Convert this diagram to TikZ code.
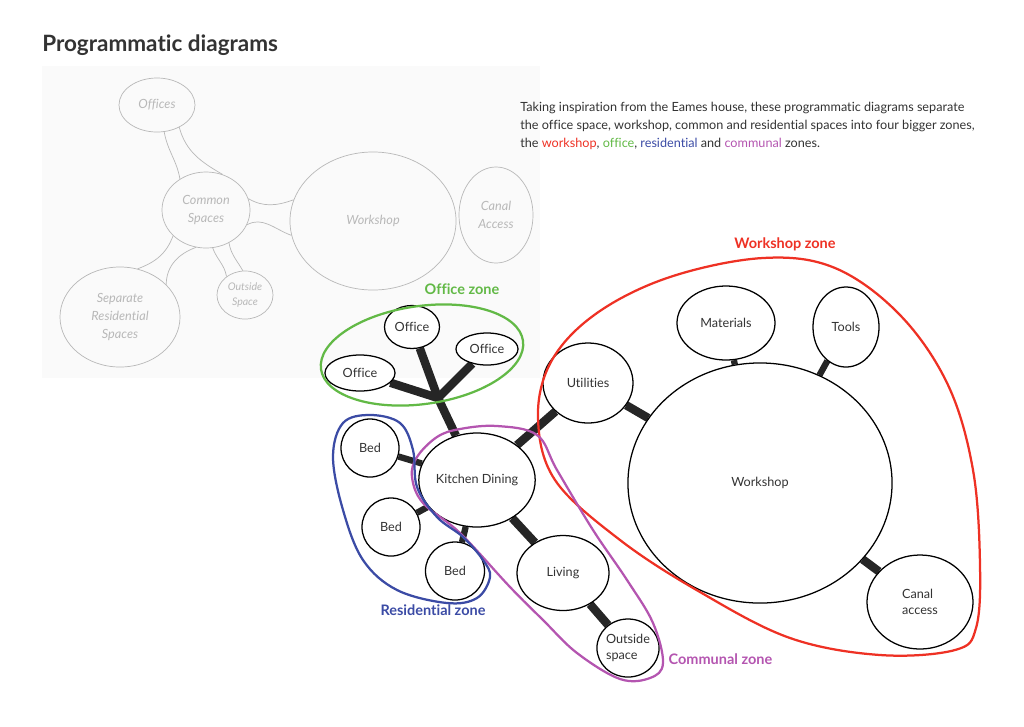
\documentclass[tikz,border=0pt]{standalone}
\usepackage{fontspec}
\setmainfont{Lato}[Ligatures=NoCommon]
\usetikzlibrary{shapes.geometric, positioning, backgrounds}
\definecolor{InkGray}{HTML}{333333}
\definecolor{WorkshopRed}{HTML}{EE3124}
\definecolor{OfficeGreen}{HTML}{62B946}
\definecolor{ResBlue}{HTML}{3B4BA5}
\definecolor{CommPurple}{HTML}{B455B0}
\definecolor{PaperGray}{HTML}{FAFAFA}
\definecolor{Pencil}{HTML}{B8B8B8}
\tikzset{
    bubble/.style 2 args={ellipse, draw=black, line width=0.9pt, fill=white, inner sep=0pt, align=center, text=InkGray, font=\fontsize{9}{11}\selectfont, minimum width=#1*0.05cm, minimum height=#2*0.05cm},
    sketch/.style 2 args={ellipse, draw=Pencil, line width=0.5pt, inner sep=0pt, align=center, text=Pencil, font=\itshape\fontsize{9}{13}\selectfont, minimum width=#1*0.05cm, minimum height=#2*0.05cm},
    pencil/.style={draw=Pencil, line width=0.5pt},
    link/.style={line width=6pt, draw=black!85},
    thinlink/.style={line width=4.5pt, draw=black!85},
    zone/.style={line width=1.6pt},
    zonelabel/.style={font=\bfseries\fontsize{10.3}{12}\selectfont, inner sep=1pt}
}

\begin{document}
\begin{tikzpicture}[x=0.025cm, y=-0.025cm]
    \useasboundingbox (0,0) rectangle (1024,726);

    \node[anchor=west, inner sep=0pt, text=InkGray, font=\bfseries\fontsize{16}{18}\selectfont] (title) at (42,45) {Programmatic diagrams};
    \node[anchor=north west, inner sep=0pt, align=left, text=InkGray, font=\fontsize{9}{12.8}\selectfont] (intro) at (520,102)
        {Taking inspiration from the Eames house, these programmatic diagrams separate\\
         the office space, workshop, common and residential spaces into four bigger zones,\\
         the \textcolor{WorkshopRed}{workshop}, \textcolor{OfficeGreen}{office}, \textcolor{ResBlue}{residential} and \textcolor{CommPurple}{communal} zones.};

    % pencil sketch
    \node[sketch={38}{27}] (skOffices) at (157,105) {Offices};
    \node[sketch={44}{38}] (skCommon) at (206,210) {Common\\Spaces};
    \node[sketch={83}{69}] (skWorkshop) at (373,221) {Workshop};
    \node[sketch={37}{48}] (skCanal) at (496,215) {Canal\\Access};
    \node[sketch={60}{50}] (skResidential) at (120,317) {Separate\\Residential\\Spaces};
    \node[sketch={28}{24}, font=\itshape\fontsize{7.5}{11}\selectfont] (skOutside) at (245,295) {Outside\\Space};

    \draw[pencil] (skOffices.-75) to[out=-80, in=100] (skCommon.130);
    \draw[pencil] (skOffices.-45) to[out=-75, in=150] (skCommon.65);
    \draw[pencil] (skCommon.15) to[out=-30, in=-160] (skWorkshop.165);
    \draw[pencil] (skCommon.-20) to[out=30, in=160] (skWorkshop.-170);
    \draw[pencil] (skCommon.-142) to[out=-110, in=20] (skResidential.70);
    \draw[pencil] (skCommon.-105) to[out=-160, in=90] (skResidential.35);
    \draw[pencil] (skCommon.-80) to[out=-70, in=100] (skOutside.135);
    \draw[pencil] (skCommon.-55) to[out=-80, in=120] (skOutside.95);

    % bubble diagram
    \node[bubble={27.5}{21.5}] (office1) at (412,327) {Office};
    \node[bubble={31}{16}] (office2) at (487,349) {Office};
    \node[bubble={35}{18}] (office3) at (360,373) {Office};
    \coordinate (fork) at (438,398);
    \node[bubble={53}{47}] (kitchen) at (477,480) {Kitchen Dining};
    \node[bubble={29}{29}] (bed1) at (370,448) {Bed};
    \node[bubble={29}{29}] (bed2) at (391,527) {Bed};
    \node[bubble={29.5}{29}] (bed3) at (455,571) {Bed};
    \node[bubble={46}{37.5}] (living) at (563,573) {Living};
    \node[bubble={30}{29}, align=left] (outside) at (628,648) {Outside\\space};
    \node[bubble={45}{40}] (utilities) at (588,383) {Utilities};
    \node[bubble={132}{120}] (workshop) at (760,483) {Workshop};
    \node[bubble={49}{37}] (materials) at (726,323) {Materials};
    \node[bubble={33}{40}] (tools) at (846,327) {Tools};
    \node[bubble={53}{47}, align=left] (canal) at (920,602) {Canal\\access};

    \begin{scope}[on background layer]
        \fill[PaperGray] (42,66) rectangle (540,378);
        \draw[link] (fork) -- (kitchen);
        \draw[link] (fork) -- (office1);
        \draw[link] (fork) -- (office2);
        \draw[link] (fork) -- (office3);
        \draw[thinlink] (kitchen) -- (bed1);
        \draw[thinlink] (kitchen) -- (bed2);
        \draw[thinlink] (kitchen) -- (bed3);
        \draw[link] (kitchen) -- (living);
        \draw[link] (living) -- (outside);
        \draw[link] (kitchen) -- (utilities);
        \draw[link] (utilities) -- (workshop);
        \draw[thinlink] (workshop) -- (materials);
        \draw[thinlink] (workshop) -- (tools);
        \draw[link] (workshop) -- (canal);
    \end{scope}

    % zones
    \node[ellipse, zone, draw=OfficeGreen, rotate=8, minimum width=204*0.025cm, minimum height=98*0.025cm] (officezone) at (422,355) {};
    \node[zonelabel, text=OfficeGreen] (officelabel) at (462,289) {Office zone};

    \draw[zone, draw=WorkshopRed] plot[smooth cycle, tension=0.6] coordinates {
        (538,417) (552,360) (597,313) (670,277) (763,258) (835,268) (900,315) (948,385)
        (973,470) (980,565) (976,628) (955,650) (880,655) (790,638) (700,592) (620,540) (555,480)};
    \node[zonelabel, text=WorkshopRed] (workshoplabel) at (785,244) {Workshop zone};

    \draw[zone, draw=CommPurple] plot[smooth cycle, tension=0.6] coordinates {
        (437,437) (460,429) (497,426) (537,435) (557,470) (593,530) (627,580) (653,623)
        (663,663) (650,678) (620,679) (577,653) (543,620) (510,587) (460,533) (423,503) (412,477) (417,457)};
    \node[zonelabel, text=CommPurple, anchor=west] (communallabel) at (667,659) {Communal zone};

    \draw[zone, draw=ResBlue] plot[smooth cycle, tension=0.6] coordinates {
        (370,415) (400,423) (413,450) (417,487) (437,517) (463,537) (483,560) (490,577)
        (477,598) (447,603) (397,590) (363,560) (343,510) (333,457) (343,423)};
    \node[zonelabel, text=ResBlue] (residentiallabel) at (433,610) {Residential zone};
\end{tikzpicture}
\end{document}
